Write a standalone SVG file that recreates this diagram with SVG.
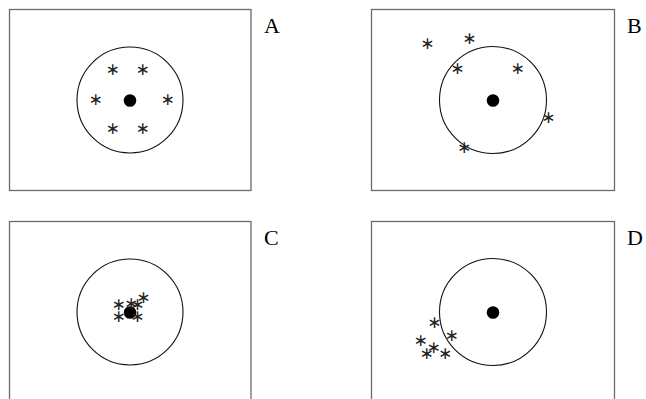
<svg xmlns="http://www.w3.org/2000/svg" width="646" height="399" viewBox="0 0 646 399">
<style>
.frame{fill:none;stroke:#6b6b6b;stroke-width:1.3}
.ring{fill:none;stroke:#111;stroke-width:1.1}
.dot{fill:#000}
.ast{font-family:"DejaVu Sans",sans-serif;font-size:17px;fill:#222;text-anchor:middle}
.lbl{font-family:"Liberation Serif",serif;font-size:22px;fill:#000}
</style>
<rect width="646" height="399" fill="#fff"/>
<g id="panelA">
<rect class="frame" x="9.5" y="9.5" width="241.5" height="181"/>
<circle class="ring" cx="130" cy="100" r="53"/>
<circle class="dot" cx="130" cy="100.5" r="6.3"/>
<text class="ast" x="112.7" y="75">∗</text>
<text class="ast" x="142.7" y="75">∗</text>
<text class="ast" x="95.7" y="105">∗</text>
<text class="ast" x="167.7" y="105">∗</text>
<text class="ast" x="112.7" y="134">∗</text>
<text class="ast" x="142.7" y="134">∗</text>
<text class="lbl" x="264" y="32.5">A</text>
</g>
<g id="panelB">
<rect class="frame" x="371.5" y="9.5" width="243" height="181"/>
<circle class="ring" cx="493" cy="100" r="53.5"/>
<circle class="dot" cx="493" cy="100.5" r="6.3"/>
<text class="ast" x="427.3" y="49.3">∗</text>
<text class="ast" x="469.3" y="43.7">∗</text>
<text class="ast" x="457.3" y="74.3">∗</text>
<text class="ast" x="517.7" y="74.3">∗</text>
<text class="ast" x="548.3" y="122.7">∗</text>
<text class="ast" x="464" y="152.7">∗</text>
<text class="lbl" x="627" y="32.5">B</text>
</g>
<g id="panelC">
<rect class="frame" x="9.5" y="221.5" width="241.5" height="190"/>
<circle class="ring" cx="130" cy="312" r="53"/>
<circle class="dot" cx="130" cy="312.5" r="6.3"/>
<text class="ast" x="118.5" y="309.5">∗</text>
<text class="ast" x="118.5" y="321.5">∗</text>
<text class="ast" x="131" y="309">∗</text>
<text class="ast" x="137.3" y="309.5">∗</text>
<text class="ast" x="143.3" y="302.5">∗</text>
<text class="ast" x="137.3" y="322">∗</text>
<text class="lbl" x="264" y="244.5">C</text>
</g>
<g id="panelD">
<rect class="frame" x="371.5" y="221.5" width="243" height="190"/>
<circle class="ring" cx="493" cy="312" r="53.5"/>
<circle class="dot" cx="493" cy="312.5" r="6.3"/>
<text class="ast" x="434.3" y="327.7">∗</text>
<text class="ast" x="451.7" y="341">∗</text>
<text class="ast" x="420.5" y="346">∗</text>
<text class="ast" x="433.5" y="352.7">∗</text>
<text class="ast" x="426.7" y="358.7">∗</text>
<text class="ast" x="445" y="359.3">∗</text>
<text class="lbl" x="627" y="244.5">D</text>
</g>
<g id="connectors"></g>
</svg>
